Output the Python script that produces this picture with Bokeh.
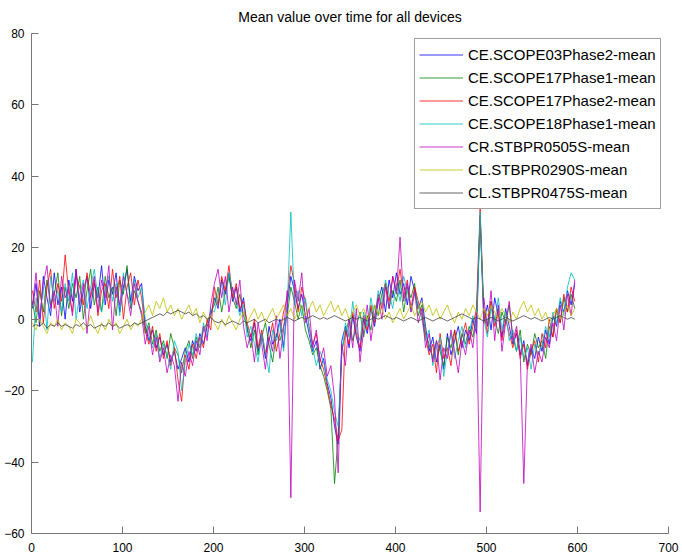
from bokeh.plotting import figure
from bokeh.models import Range1d, FixedTicker, Legend, LegendItem
from bokeh.embed import file_html
from bokeh.resources import INLINE

# sample index (time)
sample_index = list(range(1, 600, 4))

scope03_ph2 = [
    3, 10, -2, 12, 6, 1, 13, 4, 9, 0,
    11, 5, 14, 2, 8, 12, 3, 10, 6, 15,
    4, 11, 7, 13, 2, 9, 14, 5, 12, 8,
    10, -2, -6, -3, -8, -5, -10, -7, -12, -9,
    -14, -11, -8, -12, -6, -9, -4, -7, -2, 1,
    6, 3, 11, 7, 13, 5, 9, 2, 6, -3,
    -6, -1, -9, -4, -11, -2, -7, -5, 0, -8,
    4, 12, 8, 3, 7, 1, -4, -9, -6, -14,
    -11, -18, -22, -30, -35, -6, -2, -8, 1, -5,
    -9, 0, -4, 3, -2, 5, 9, 2, 11, 6,
    13, 7, 10, 4, 12, 8, 3, 6, -2, -9,
    -5, -12, -7, -14, -4, -10, -6, -2, -8, -3,
    -6, 0, -4, 29, -1, 4, -3, 6, 1, -5,
    3, -2, -7, -4, -10, -6, -13, -8, -11, -5,
    -9, -3, -7, 1, -2, 5, 2, 8, 4, 10,
]

scope17_ph1 = [
    5, -1, 8, 2, 11, 4, 7, 13, 1, 9,
    3, 10, 6, 12, 0, 8, 14, 4, 9, 2,
    12, 6, 9, 1, 11, 7, 15, 3, 8, 5,
    2, -4, -1, -7, -3, -9, -6, -11, -4, -8,
    -10, -15, -9, -6, -11, -5, -8, -3, -1, 2,
    4, 9, 2, 8, 12, 6, 3, 7, 1, -2,
    -8, -3, -10, -5, -1, -7, -12, -4, -6, -2,
    1, 9, 5, 0, 4, -3, -6, -10, -8, -13,
    -16, -20, -25, -46, -33, -9, -4, 0, -6, -2,
    2, -5, 1, -3, 4, 1, 7, 10, 3, 8,
    5, 11, 2, 9, 6, 10, 1, 4, -4, -7,
    -11, -6, -9, -13, -5, -8, -3, -10, -4, -7,
    -2, -5, 1, 28, 3, -2, 5, 0, -4, 2,
    -1, 4, -5, -9, -3, -12, -7, -10, -4, -8,
    -6, -11, -2, -5, 3, -1, 6, 2, 7, 3,
]

scope17_ph2 = [
    8, 2, 11, -1, 9, 14, 3, 10, 5, 18,
    7, 2, 12, 9, 4, 13, 6, 11, 1, 8,
    10, 3, 14, 6, 12, 0, 9, 13, 4, 11,
    6, -3, -7, -2, -9, -4, -11, -6, -13, -8,
    -17, -23, -10, -14, -7, -11, -5, -8, 0, -3,
    9, 4, 12, 8, 15, 6, 10, 3, 5, -1,
    -5, 0, -8, -3, -10, -6, -1, -9, -4, 2,
    6, 15, 10, 2, 9, 5, -2, -7, -4, -11,
    -14, -19, -24, -28, -34, -31, -3, -7, 2, -4,
    -8, 1, -3, 4, -1, 7, 3, 10, 5, 12,
    8, 14, 6, 11, 3, 9, 5, 1, -5, -10,
    -7, -15, -4, -11, -8, -13, -3, -9, -5, -1,
    -7, -2, 3, 31, 2, -4, 5, -2, 3, -6,
    0, -4, -8, -3, -11, -7, -14, -9, -6, -12,
    -4, -8, 0, -5, 3, -1, 7, 2, 9, 5,
]

scope18_ph1 = [
    -12, 6, 1, 9, -3, 12, 5, 8, 2, 10,
    5, 13, 0, 7, 11, 3, 9, 14, 6, 2,
    8, 12, 5, 10, 1, 13, 7, 4, 11, 6,
    9, 0, -5, -8, -4, -11, -7, -10, -14, -6,
    -9, -20, -12, -7, -10, -4, -8, -1, -5, 3,
    2, 7, 10, 4, 13, 8, 5, 1, 4, -5,
    -2, -7, -12, -4, -9, -15, -3, -6, -1, -9,
    3, 30, 4, 8, 1, 6, -2, -8, -13, -9,
    -12, -17, -20, -26, -30, -10, -1, -5, 5, -3,
    -6, 2, -2, 6, 0, 8, 4, 11, 7, 3,
    10, 5, 12, 8, 2, 7, 4, 0, -6, -3,
    -13, -8, -5, -16, -9, -4, -11, -6, -2, -8,
    -4, 1, -3, 30, 0, -5, 3, -1, 6, -3,
    2, -6, -3, -9, -5, -11, -8, -14, -7, -10,
    -7, -2, -5, 2, -1, 6, 1, 9, 13, 11,
]

stbpr0505 = [
    4, 13, 0, 10, 15, 3, 8, -2, 12, 6,
    9, 1, 14, 4, 10, -4, 7, 12, 2, 11,
    6, 15, -3, 9, 4, 12, 7, 1, 10, 5,
    1, -7, -2, -10, -5, -12, -8, -15, -10, -13,
    -23, -12, -16, -9, -13, -6, -10, -2, -6, 4,
    10, 14, 6, 12, 2, 9, 4, 11, -2, -8,
    -4, -12, -1, -7, -14, -5, -9, 1, -11, -3,
    8, -50, 11, 5, 13, -1, 3, -8, -3, -12,
    -8, -16, -13, -22, -43, -7, -13, 0, -8, 3,
    -12, -3, 4, -6, 1, 6, 0, 9, 3, 12,
    7, 23, 5, 10, 2, 8, -1, 3, -8, -4,
    -12, -6, -17, -8, -11, -3, -9, -15, -6, -10,
    -3, -8, 2, -54, 6, -2, 8, -6, 4, -9,
    -1, 5, -6, -2, -9, -46, -12, -7, -15, -9,
    -12, -5, -8, -1, -6, 4, -3, 7, 1, 11,
]

stbpr0290 = [
    -1, -3, 0, -2, -4, -1, -2, 0, -3, -1,
    -2, -4, 0, -1, -3, -2, 1, -2, -4, -1,
    -3, 0, -2, -1, -4, -2, 0, -3, -1, -2,
    0, 2, 4, 1, 5, 3, 6, 2, 4, 1,
    3, 0, 2, 4, 1, 3, -1, 2, 0, 1,
    -1, -3, 0, -2, 1, -1, -3, 0, 2, -1,
    1, 3, 0, 2, -1, 1, 3, 0, 2, 4,
    1, 3, 0, 2, 4, 1, 3, 5, 2, 4,
    1, 3, 5, 2, 4, 1, 3, 0, 2, 4,
    1, 3, 0, 2, 4, 1, 3, 0, 2, -1,
    1, 3, 0, 2, 4, 1, 3, 5, 2, 4,
    1, 3, 0, 2, 4, 1, -1, 2, 0, 3,
    1, 4, 2, 0, 3, 1, 4, 2, 0, 3,
    1, -1, 2, 0, 3, 5, 2, 4, 1, 3,
    0, 2, -1, 1, 3, 0, 2, 4, 1, 3,
]

stbpr0475 = [
    -2, -1.5, -2, -1, -2.5, -1.5, -2, -1, -2, -1.5,
    -2, -2.5, -1.5, -2, -1, -2, -1.5, -2.5, -2, -1.5,
    -2, -1, -2, -1.5, -2.5, -2, -1.5, -2, -1, -1.5,
    -1, -0.5, 0, 0.5, 1, 1.5, 1, 2, 1.5, 2,
    2.5, 2, 1.5, 2, 1, 1.5, 0.5, 1, 0, 0.5,
    -0.5, -1, -0.5, -1.5, -1, -0.5, -1, -1.5, -0.5, -1,
    -0.5, 0, -1, -0.5, 0, -1, -0.5, 0, -0.5, 0,
    0.5, 0, -0.5, 0, 0.5, 0, 0.5, 1, 0.5, 0,
    0.5, 0, 0.5, 1, 0.5, 0, -0.5, 0, 0.5, 0,
    0.5, 0, -0.5, 0, 0.5, 0, 0.5, 1, 0.5, 0,
    0.5, 0, -0.5, 0, 0.5, 0, -0.5, 0, 0.5, 0,
    -0.5, 0, 0.5, 0, -0.5, 0, 0.5, 1, 1.5, 1,
    0.5, 0, 0.5, 0, -0.5, 0, 0.5, 0, -0.5, 0,
    0.5, 0, -0.5, 0, 0.5, 1, 0.5, 0, 0.5, 0,
    -0.5, 0, 0.5, 0, 0.5, 1, 0.5, 0, 0.5, 0,
]

series_names = [
    "CE.SCOPE03Phase2-mean",
    "CE.SCOPE17Phase1-mean",
    "CE.SCOPE17Phase2-mean",
    "CE.SCOPE18Phase1-mean",
    "CR.STBPR0505S-mean",
    "CL.STBPR0290S-mean",
    "CL.STBPR0475S-mean",
]
series_values = [scope03_ph2, scope17_ph1, scope17_ph2, scope18_ph1,
                 stbpr0505, stbpr0290, stbpr0475]
colors = ["#0000ff", "#008000", "#ff0000", "#00bfbf", "#bf00bf", "#bfbf00", "#404040"]

x_ticks = [0, 100, 200, 300, 400, 500, 600, 700]
y_ticks = [-60, -40, -20, 0, 20, 40, 60, 80]

FONT = "Liberation Sans"

p = figure(width=682, height=557, output_backend="svg", toolbar_location=None,
           x_range=Range1d(0, 700), y_range=Range1d(-60, 80),
           min_border_left=31, min_border_right=14, min_border_top=33,
           min_border_bottom=24)
p.background_fill_color = "white"
p.border_fill_color = "white"
p.outline_line_color = None
p.grid.visible = False

p.title.text = "Mean value over time for all devices"
p.title.align = "center"
p.title.text_font = FONT
p.title.text_font_size = "14px"
p.title.text_font_style = "normal"
p.title.text_color = "black"
p.title.standoff = 15
p.title.vertical_align = "middle"

items = []
for name, vals, col in zip(series_names, series_values, colors):
    n = min(len(vals), len(sample_index))
    r = p.line(sample_index[:n], vals[:n], line_color=col, line_width=0.8)
    items.append(LegendItem(label=name, renderers=[r]))

for ax, ticks in ((p.xaxis[0], x_ticks), (p.yaxis[0], y_ticks)):
    ax.ticker = FixedTicker(ticks=ticks)
    ax.minor_tick_line_color = None
    ax.major_tick_in = 7
    ax.major_tick_out = 0
    ax.axis_line_color = "#777777"
    ax.major_tick_line_color = "#777777"
    ax.major_label_text_font = FONT
    ax.major_label_text_font_size = "12px"
    ax.major_label_text_color = "black"
p.xaxis[0].major_label_standoff = 9
p.yaxis[0].major_label_standoff = 7

legend = Legend(items=items, location=(383, 324))
legend.label_text_font = FONT
legend.label_text_font_size = "15px"
legend.label_text_color = "black"
legend.glyph_width = 44
legend.glyph_height = 23
legend.label_height = 23
legend.label_standoff = 5
legend.spacing = 0
legend.padding = 4
legend.margin = 0
legend.border_line_color = "#404040"
legend.border_line_width = 1
legend.background_fill_color = "white"
legend.background_fill_alpha = 1
p.add_layout(legend)

open("out.html", "w").write(file_html(p, INLINE))
